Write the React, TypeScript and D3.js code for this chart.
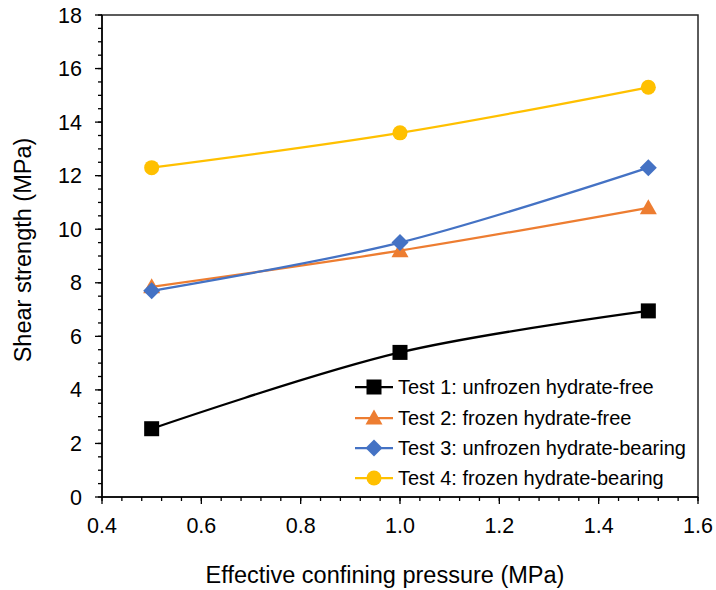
import React from 'react';
import * as d3 from 'd3';

const pressures = [0.5, 1.0, 1.5];
const test1 = [2.55, 5.4, 6.95];
const test2 = [7.85, 9.2, 10.8];
const test3 = [7.7, 9.5, 12.3];
const test4 = [12.3, 13.6, 15.3];
const seriesNames = [
  'Test 1: unfrozen hydrate-free',
  'Test 2: frozen hydrate-free',
  'Test 3: unfrozen hydrate-bearing',
  'Test 4: frozen hydrate-bearing',
];
const xTicks = [0.4, 0.6, 0.8, 1.0, 1.2, 1.4, 1.6];
const yTicks = [0, 2, 4, 6, 8, 10, 12, 14, 16, 18];

const COLORS = ['#000000', '#ED7D31', '#4472C4', '#FFC000'];
const MARKERS = ['square', 'triangle', 'diamond', 'circle'];

const W = 716;
const H = 590;
const left = 102;
const right = 698;
const top = 15;
const bottom = 497;

function Marker({ kind, x, y, color }: { kind: string; x: number; y: number; color: string }) {
  if (kind === 'square') return <rect x={x - 7.5} y={y - 7.5} width={15} height={15} fill={color} />;
  if (kind === 'triangle') return <path d={`M${x},${y - 8.5}L${x + 8.5},${y + 6.5}L${x - 8.5},${y + 6.5}Z`} fill={color} />;
  if (kind === 'diamond') return <path d={`M${x},${y - 8.5}L${x + 8.5},${y}L${x},${y + 8.5}L${x - 8.5},${y}Z`} fill={color} />;
  return <circle cx={x} cy={y} r={7.5} fill={color} />;
}

export default function App() {
  const x = d3.scaleLinear().domain([0.4, 1.6]).range([left, right]);
  const y = d3.scaleLinear().domain([0, 18]).range([bottom, top]);
  const all = [test1, test2, test3, test4];
  const line = d3.line<[number, number]>()
    .x(d => x(d[0]))
    .y(d => y(d[1]))
    .curve(d3.curveCatmullRom.alpha(0.5));

  const xMinor = d3.range(0.4, 1.6001, 0.04);
  const yMinor = d3.range(0, 18.001, 0.5);
  const font = 'Arial, "Liberation Sans", sans-serif';

  const legX = 355;
  const legY = [387, 418, 448, 478];

  return (
    <svg width={W} height={H} style={{ position: 'absolute', left: 0, top: 0 }} fontFamily={font}>
      <rect width={W} height={H} fill="#fff" />
      {/* frame */}
      <rect x={left} y={top} width={right - left} height={bottom - top} fill="none" stroke="#262626" strokeWidth={1.5} />
      {/* x ticks */}
      {xMinor.map((v, i) => (
        <line key={'xm' + i} x1={x(v)} x2={x(v)} y1={bottom} y2={bottom + 4} stroke="#000" strokeWidth={1.3} />
      ))}
      {xTicks.map(v => (
        <g key={'x' + v}>
          <line x1={x(v)} x2={x(v)} y1={bottom} y2={bottom + 7} stroke="#000" strokeWidth={1.3} />
          <text x={x(v)} y={533} textAnchor="middle" fontSize={21.5} fill="#000">{v.toFixed(1)}</text>
        </g>
      ))}
      {yMinor.map((v, i) => (
        <line key={'ym' + i} x1={left - 4} x2={left} y1={y(v)} y2={y(v)} stroke="#000" strokeWidth={1.3} />
      ))}
      {yTicks.map(v => (
        <g key={'y' + v}>
          <line x1={left - 7} x2={left} y1={y(v)} y2={y(v)} stroke="#000" strokeWidth={1.3} />
          <text x={82} y={y(v) + 7.5} textAnchor="end" fontSize={21.5} fill="#000">{v}</text>
        </g>
      ))}
      <line x1={left} x2={left} y1={top} y2={bottom} stroke="#000" strokeWidth={1.5} />
      <line x1={left} x2={right} y1={bottom} y2={bottom} stroke="#000" strokeWidth={1.5} />
      {/* series */}
      {all.map((vals, si) => {
        const pts = pressures.map((p, i) => [p, vals[i]] as [number, number]);
        return (
          <g key={'s' + si}>
            <path d={line(pts) || ''} fill="none" stroke={COLORS[si]} strokeWidth={2.25} />
            {pts.map((p, i) => (
              <Marker key={i} kind={MARKERS[si]} x={x(p[0])} y={y(p[1])} color={COLORS[si]} />
            ))}
          </g>
        );
      })}
      {/* legend */}
      {seriesNames.map((name, i) => (
        <g key={'l' + i}>
          <line x1={legX} x2={legX + 38} y1={legY[i]} y2={legY[i]} stroke={COLORS[i]} strokeWidth={2.25} />
          <Marker kind={MARKERS[i]} x={legX + 19} y={legY[i]} color={COLORS[i]} />
          <text x={legX + 43} y={legY[i] + 7} fontSize={20} fill="#000">{name}</text>
        </g>
      ))}
      <text x={385} y={583} textAnchor="middle" fontSize={23.5} fill="#000">Effective confining pressure (MPa)</text>
      <text transform={`translate(31,250) rotate(-90)`} textAnchor="middle" fontSize={23.5} fill="#000">
        Shear strength (MPa)
      </text>
    </svg>
  );
}
